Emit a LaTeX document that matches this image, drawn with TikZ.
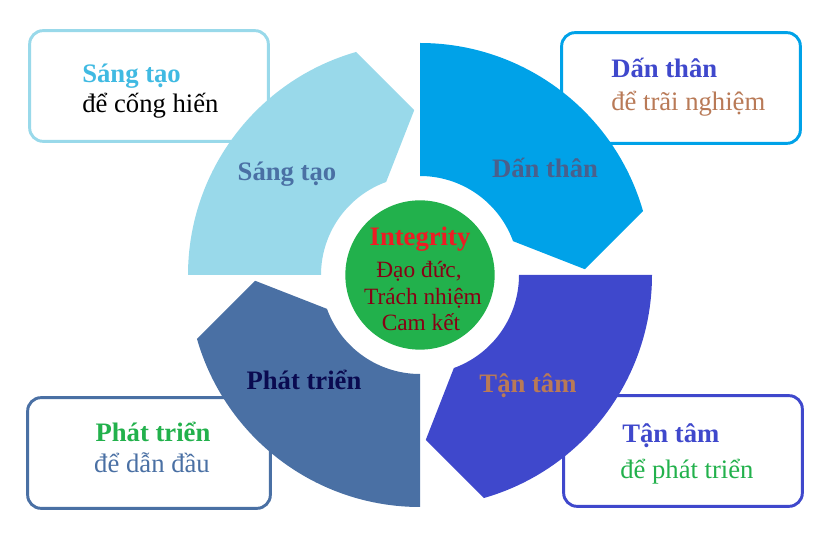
\documentclass[tikz,border=0pt]{standalone}
\usepackage{fontspec}
\setmainfont{Liberation Serif}
\usetikzlibrary{calc}

\definecolor{paleblue}{RGB}{153,217,234}
\definecolor{skyblue}{RGB}{0,162,232}
\definecolor{indigo}{RGB}{63,72,204}
\definecolor{steelblue}{RGB}{74,112,164}
\definecolor{slateblue}{RGB}{74,96,140}
\definecolor{brightsky}{RGB}{64,186,226}
\definecolor{leafgreen}{RGB}{34,177,76}
\definecolor{brightred}{RGB}{237,28,36}
\definecolor{darkred}{RGB}{136,0,21}
\definecolor{clay}{RGB}{185,122,87}
\definecolor{navy}{RGB}{10,10,80}

\begin{document}
\begin{tikzpicture}[
  x=0.75pt, y=0.75pt,
  card/.style={draw, rounded corners=10pt, line width=2.2pt, fill=white,
    minimum width=179pt, minimum height=83pt, inner sep=0pt},
  cardtitle/.style={inner sep=0pt, anchor=base west, font=\fontsize{20}{24}\selectfont\bfseries},
  cardnote/.style={inner sep=0pt, anchor=base west, font=\fontsize{20}{24}\selectfont},
  ringtext/.style={inner sep=0pt, anchor=base, font=\fontsize{20}{24}\selectfont\bfseries},
  coretext/.style={inner sep=0pt, anchor=base, text=darkred, font=\fontsize{17.5}{21}\selectfont}
]
  \useasboundingbox (0,0) rectangle (832,550);
  \coordinate (hub) at (420,275);

  % outer cards
  \node[card, draw=paleblue] (sangtaoCard) at (149,464) {};
  \node[card, draw=skyblue] (danthanCard) at (681,462) {};
  \node[card, draw=steelblue, minimum width=182pt] (phattrienCard) at (149,97) {};
  \node[card, draw=indigo] (tantamCard) at (683,99) {};

  % ring segments, each one ends in a point (clockwise)
  \foreach \s/\col in {180/paleblue, 90/skyblue, 0/indigo, -90/steelblue}
    \fill[\col] ($(hub)+(\s:99)$) -- ($(hub)+(\s:232)$)
      arc[start angle=\s, end angle=\s-74, radius=232]
      -- ($(hub)+(\s-88:165)$) -- ($(hub)+(\s-70:99)$)
      arc[start angle=\s-70, end angle=\s, radius=99] -- cycle;

  \node[ringtext, text=steelblue] (sangtaoRing) at (287,369) {Sáng tạo};
  \node[ringtext, text=slateblue] (danthanRing) at (545,372) {Dấn thân};
  \node[ringtext, text=navy] (phattrienRing) at (304,160) {Phát triển};
  \node[ringtext, text=clay] (tantamRing) at (528,157) {Tận tâm};

  % core
  \node[circle, fill=leafgreen, minimum size=112pt, inner sep=0pt] (core) at (hub) {};
  \node[coretext, text=brightred, font=\fontsize{20}{24}\selectfont\bfseries] (integrity) at (420,304) {Integrity};
  \node[coretext] (daoduc) at (419,272) {Đạo đức,};
  \node[coretext] (trachnhiem) at (423,245) {Trách nhiệm};
  \node[coretext] (camket) at (421,219) {Cam kết};

  % card texts
  \node[cardtitle, text=brightsky] (sangtaoTitle) at (82,467) {Sáng tạo};
  \node[cardnote, text=black] (sangtaoNote) at (82,437) {để cống hiến};
  \node[cardtitle, text=indigo] (danthanTitle) at (611,472) {Dấn thân};
  \node[cardnote, text=clay] (danthanNote) at (611,439) {để trãi nghiệm};
  \node[cardtitle, text=leafgreen, anchor=base] (phattrienTitle) at (153,108) {Phát triển};
  \node[cardnote, text=steelblue, anchor=base] (phattrienNote) at (152,77) {để dẫn đầu};
  \node[cardtitle, text=indigo] (tantamTitle) at (622,107) {Tận tâm};
  \node[cardnote, text=leafgreen] (tantamNote) at (620,71) {để phát triển};
\end{tikzpicture}
\end{document}
